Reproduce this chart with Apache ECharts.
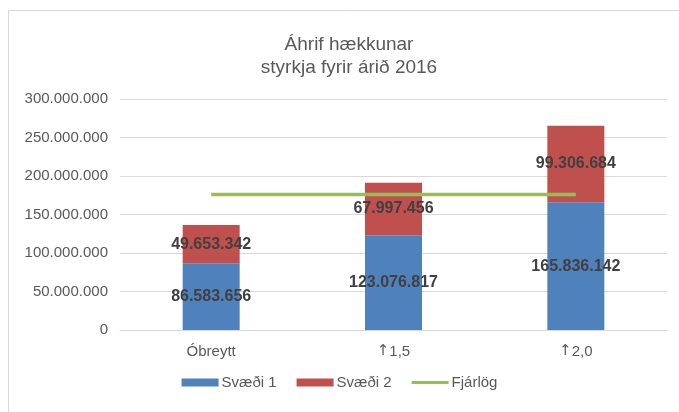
<!DOCTYPE html>
<html>
<head>
<meta charset="utf-8">
<script src="https://cdn.jsdelivr.net/npm/echarts@6/dist/echarts.min.js"></script>
<style>
html,body{margin:0;padding:0;background:#fff;}
#c{width:679px;height:412px;}
</style>
</head>
<body>
<div id="c"></div>
<script>
var categories = ['Óbreytt', '↑1,5', '↑2,0'];
var svaedi1 = [86583656, 123076817, 165836142];
var svaedi2 = [49653342, 67997456, 99306684];
var fjarlog = [176000000, 176000000, 176000000];
var yMin = 0, yMax = 300000000, yStep = 50000000;

function fmt(v) {
  return String(Math.round(v)).replace(/\B(?=(\d{3})+(?!\d))/g, '.');
}

var chart = echarts.init(document.getElementById('c'), null, {renderer: 'canvas'});
var font = 'Liberation Sans, Arial, sans-serif';
chart.setOption({
  animation: false,
  backgroundColor: '#ffffff',
  graphic: [{
    type: 'rect', silent: true, z: -10,
    shape: {x: 8.5, y: 10.5, width: 700, height: 420},
    style: {fill: 'none', stroke: '#d9d9d9', lineWidth: 1}
  }],
  title: {
    text: 'Áhrif hækkunar\nstyrkja fyrir árið 2016',
    left: 344, top: 28, textAlign: 'center',
    textStyle: {fontFamily: font, fontSize: 19, fontWeight: 'normal', color: '#595959', lineHeight: 23}
  },
  legend: {
    bottom: 17, left: 'center',
    itemWidth: 37, itemHeight: 8, itemGap: 20,
    textStyle: {fontFamily: font, fontSize: 15, color: '#595959', padding: [0, 0, 0, -2]},
    data: [
      {name: 'Svæði 1', icon: 'rect'},
      {name: 'Svæði 2', icon: 'rect'},
      {name: 'Fjárlög', icon: 'path://M0,0h37v3h-37z', itemStyle: {color: '#9BBB59'}}
    ]
  },
  grid: {left: 120, right: 12, top: 99, bottom: 82},
  xAxis: {
    type: 'category', data: categories,
    axisLine: {show: true, lineStyle: {color: '#d9d9d9'}},
    axisTick: {show: false},
    axisLabel: {
      fontFamily: font, fontSize: 15, color: '#595959', margin: 14,
      formatter: function (v) {
        if (v.charAt(0) === '↑') { return '{a|↑}' + v.slice(1); }
        return v;
      },
      rich: {a: {fontFamily: 'DejaVu Sans', fontSize: 15, color: '#595959'}}
    }
  },
  yAxis: {
    type: 'value', min: yMin, max: yMax, interval: yStep,
    axisLine: {show: false}, axisTick: {show: false},
    splitLine: {lineStyle: {color: '#d9d9d9'}},
    axisLabel: {fontFamily: font, fontSize: 15, color: '#595959', margin: 12, formatter: fmt}
  },
  series: [
    {
      name: 'Svæði 1', type: 'bar', stack: 'a', barWidth: 57, data: svaedi1,
      itemStyle: {color: '#4F81BD'},
      label: {show: true, position: 'inside', formatter: function (p) { return fmt(p.value); },
        fontFamily: font, fontSize: 16, fontWeight: 'bold', color: '#404040'}
    },
    {
      name: 'Svæði 2', type: 'bar', stack: 'a', barWidth: 57, data: svaedi2,
      itemStyle: {color: '#C0504D'},
      label: {show: true, position: 'inside', formatter: function (p) { return fmt(p.value); },
        fontFamily: font, fontSize: 16, fontWeight: 'bold', color: '#404040'}
    },
    {
      name: 'Fjárlög', type: 'line', data: fjarlog, symbol: 'none', z: 5,
      itemStyle: {color: '#9BBB59'},
      lineStyle: {color: '#9BBB59', width: 3.5}
    }
  ]
});
</script>
</body>
</html>
